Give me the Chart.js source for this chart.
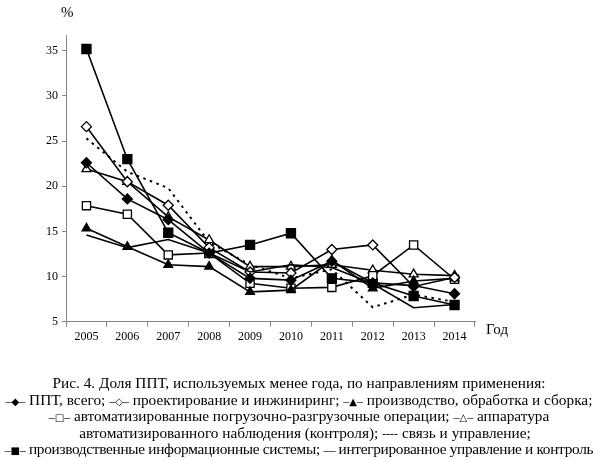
<!DOCTYPE html>
<html>
<head>
<meta charset="utf-8">
<script src="https://cdn.jsdelivr.net/npm/chart.js@4.4.0/dist/chart.umd.min.js"></script>
<style>
  body { margin: 0; background: #fff; }
  #wrap { position: relative; width: 598px; height: 460px; font-family: "Liberation Serif", "Times New Roman", serif; color: #000; }
  #chart { position: absolute; left: 0; top: 0; }
  .lbl { position: absolute; font-size: 15px; line-height: 1; white-space: nowrap; }
  .cap { position: absolute; left: 0; width: 598px; text-align: center; font-size: 15.3px; line-height: 1; white-space: nowrap; }
  .s { font-size: 12px; }
  .s b { font-family: "DejaVu Sans", sans-serif; font-size: 10px; font-weight: normal; }
</style>
</head>
<body>
<div id="wrap">
  <canvas id="chart" width="598" height="460"></canvas>
  <div class="lbl" style="left:61px; top:5px;">%</div>
  <div class="lbl" style="left:486px; top:322px;">Год</div>
  <div class="cap" style="top:375px;">Рис. 4. Доля ППТ, используемых менее года, по направлениям применения:</div>
  <div class="cap" style="top:392px;"><span class="s">–<b>◆</b>–</span> ППТ, всего; <span class="s">–<b>◇</b>–</span> проектирование и инжиниринг; <span class="s">–<b>▲</b>–</span> производство, обработка и сборка;</div>
  <div class="cap" style="top:408px;"><span class="s">–<b>□</b>–</span> автоматизированные погрузочно-разгрузочные операции; <span class="s">–<b>△</b>–</span> аппаратура</div>
  <div class="cap" style="top:425px; padding-left:12px; box-sizing:border-box;">автоматизированного наблюдения (контроля); <span class="s">----</span> связь и управление;</div>
  <div class="cap" style="top:441px; letter-spacing:-0.3px;"><span class="s">–<b>■</b>–</span> производственные информационные системы; <span class="s">—</span> интегрированное управление и контроль</div>
</div>
<script>
const years = ['2005', '2006', '2007', '2008', '2009', '2010', '2011', '2012', '2013', '2014'];
const pptTotal      = [22.6, 18.6, 16.3, 12.6, 9.8, 9.6, 11.7, 9.3, 9.0, 8.1];
const design        = [26.6, 20.5, 17.9, 13.2, 10.5, 10.4, 13.0, 13.5, 8.9, 9.9];
const production    = [15.35, 13.3, 11.3, 11.1, 8.3, 8.5, 11.8, 8.7, 9.5, 9.8];
const loading       = [17.85, 16.9, 12.4, 12.6, 9.25, 8.7, 8.8, 10.1, 13.5, 9.7];
const monitoring    = [21.9, 20.5, 16.6, 14.05, 11.1, 11.1, 11.3, 10.7, 10.25, 10.1];
const communication = [25.3, 21.6, 19.8, 13.8, 11.3, 9.8, 10.8, 6.6, 8.0, 7.2];
const infoSystems   = [35.2, 23.0, 14.85, 12.6, 13.5, 14.8, 9.8, 9.3, 7.85, 6.85];
const integrated    = [14.6, 13.2, 14.1, 12.6, 10.5, 11.3, 11.0, 9.2, 6.55, 6.9];
const yTicks = [5, 10, 15, 20, 25, 30, 35];

function series(label, data, style, filled, radius) {
  return {
    label: label,
    data: data,
    borderColor: '#000',
    borderWidth: 1.6,
    backgroundColor: filled ? '#000' : '#fff',
    pointStyle: style,
    pointRadius: style ? radius : 0,
    pointBorderWidth: 1.3,
    pointBorderColor: '#000',
    pointBackgroundColor: filled ? '#000' : '#fff',
    tension: 0
  };
}

const datasets = [
  series('интегрированное управление и контроль', integrated, false, false, 0),
  series('ППТ, всего', pptTotal, 'rectRot', true, 5),
  series('проектирование и инжиниринг', design, 'rectRot', false, 5),
  series('производство, обработка и сборка', production, 'triangle', true, 5),
  series('автоматизированные погрузочно-разгрузочные операции', loading, 'rect', false, 5.8),
  series('аппаратура автоматизированного наблюдения (контроля)', monitoring, 'triangle', false, 5.2),
  Object.assign(series('связь и управление', communication, false, false, 0), { borderDash: [2.5, 4.5], borderWidth: 2 }),
  series('производственные информационные системы', infoSystems, 'rect', true, 6.4)
];

const ctx = document.getElementById('chart').getContext('2d');
new Chart(ctx, {
  type: 'line',
  data: { labels: years, datasets: datasets },
  options: {
    responsive: false,
    animation: false,
    layout: { padding: { left: 0, top: 35, right: 123, bottom: 108.3 } },
    plugins: { legend: { display: false }, tooltip: { enabled: false } },
    scales: {
      x: {
        offset: true,
        border: { display: true, color: '#868686', width: 1 },
        grid: { display: true, drawOnChartArea: false, drawTicks: true, tickLength: 5, color: '#868686', offset: true },
        ticks: { color: '#000', font: { family: 'Liberation Serif', size: 12 }, padding: 3, maxRotation: 0 },
        afterFit: function(scale) { scale.height = 30; }
      },
      y: {
        min: 5,
        max: 36.75,
        border: { display: true, color: '#868686', width: 1 },
        grid: { display: true, drawOnChartArea: false, drawTicks: true, tickLength: 4, color: '#868686' },
        ticks: { color: '#000', font: { family: 'Liberation Serif', size: 12 }, padding: 4 },
        afterBuildTicks: function(scale) { scale.ticks = yTicks.map(v => ({ value: v })); },
        afterFit: function(scale) { scale.width = 66; }
      }
    }
  }
});
</script>
</body>
</html>
